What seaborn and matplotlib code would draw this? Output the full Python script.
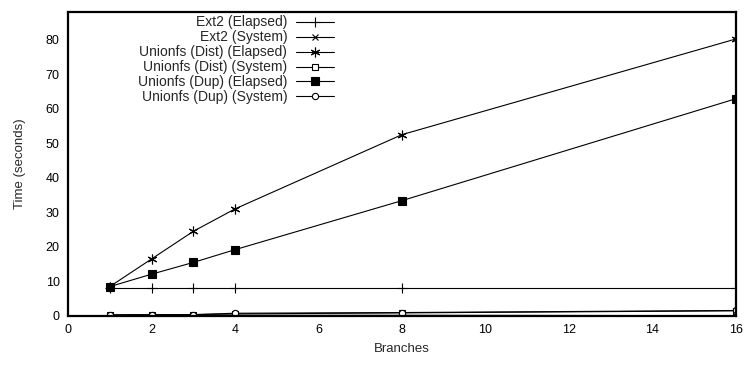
import numpy as np
import pandas as pd
import matplotlib
matplotlib.use("Agg")
import matplotlib.pyplot as plt
import seaborn as sns

# ----------------------------------------------------------------------------
# Data
# ----------------------------------------------------------------------------
branches = [1, 2, 3, 4, 8, 16]

ext2_elapsed = [8.0, 8.0, 8.0, 8.0, 8.0, 8.0]
ext2_system = [0.2, 0.2, 0.2, 0.2, 0.2, 0.1]
dist_elapsed = [8.5, 16.5, 24.5, 31.0, 52.5, 80.2]
dist_system = [0.3, 0.4, 0.4, 0.6, 0.9, 1.5]
dup_elapsed = [8.5, 12.1, 15.5, 19.2, 33.4, 62.9]
dup_system = [0.3, 0.4, 0.4, 0.8, 1.0, 1.6]

labels = [
    "Ext2 (Elapsed)",
    "Ext2 (System)",
    "Unionfs (Dist) (Elapsed)",
    "Unionfs (Dist) (System)",
    "Unionfs (Dup) (Elapsed)",
    "Unionfs (Dup) (System)",
]
series = [ext2_elapsed, ext2_system, dist_elapsed, dist_system, dup_elapsed, dup_system]

# marker style per series: (marker, size, facecolor)
styles = [
    ("+", 7, "black"),
    ("x", 5, "black"),
    ((6, 2, 0), 7, "black"),
    ("s", 4.5, "white"),
    ("s", 6, "black"),
    ("o", 4.5, "white"),
]

sns.set_style("white")
plt.rcParams["font.family"] = ["Liberation Sans", "DejaVu Sans"]
plt.rcParams["font.size"] = 9

fig = plt.figure(figsize=(7.45, 3.68), dpi=100)
ax = fig.add_axes([68 / 745, 52 / 368, 668 / 745, 304 / 368])

for lab, vals, (m, ms, fc) in zip(labels, series, styles):
    df = pd.DataFrame({"Branches": branches, "Time": vals})
    sns.lineplot(data=df, x="Branches", y="Time", ax=ax, color="black", lw=0.8,
                 marker=m, markersize=ms, markerfacecolor=fc, markeredgecolor="black",
                 markeredgewidth=0.8, label=lab)

ax.set_xlim(0, 16)
ax.set_ylim(0, 88)
ax.set_xticks(np.arange(0, 17, 2))
ax.set_yticks(np.arange(0, 81, 10))
ax.tick_params(direction="in", length=5, width=1, labelsize=9, colors="black", pad=6)
for s in ax.spines.values():
    s.set_linewidth(1.6)
    s.set_color("black")

ax.set_xlabel("Branches", fontsize=9.5, labelpad=5)
ax.set_ylabel("Time (seconds)", fontsize=9.5, labelpad=14)

leg = ax.legend(loc="upper right", bbox_to_anchor=(0.404, 1.0), frameon=False,
                markerfirst=False, handlelength=2.8, handletextpad=0.6,
                labelspacing=0.07, fontsize=10, numpoints=1, borderaxespad=0.1,
                borderpad=0.15)

fig.savefig("out.png", dpi=100)
